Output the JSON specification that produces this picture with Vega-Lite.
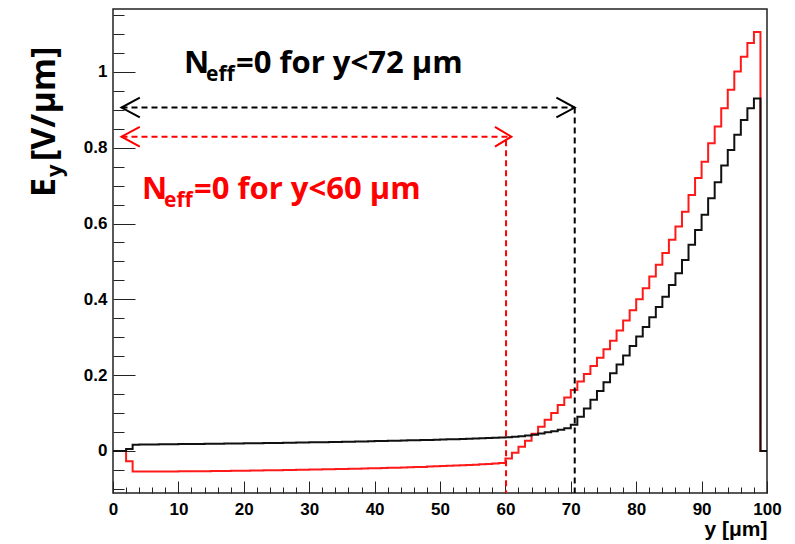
{
 "$schema": "https://vega.github.io/schema/vega-lite/v6.json",
 "width": 654,
 "height": 484,
 "autosize": "none",
 "padding": {"left": 113, "top": 9, "right": 28, "bottom": 51},
 "background": "white",
 "config": {"view": {"stroke": "#222", "strokeWidth": 1.5}, "font": "Liberation Sans"},
 "datasets": {
  "curve": [
   {"s":"black","x":0,"y":0},{"s":"black","x":1,"y":0},{"s":"black","x":2,"y":0.005},{"s":"black","x":3,"y":0.0165},{"s":"black","x":4,"y":0.0168},{"s":"black","x":5,"y":0.017},{"s":"black","x":6,"y":0.0172},{"s":"black","x":7,"y":0.0174},{"s":"black","x":8,"y":0.0176},{"s":"black","x":9,"y":0.0178},
   {"s":"black","x":10,"y":0.018},{"s":"black","x":11,"y":0.0182},{"s":"black","x":12,"y":0.0184},{"s":"black","x":13,"y":0.0186},{"s":"black","x":14,"y":0.0188},{"s":"black","x":15,"y":0.019},{"s":"black","x":16,"y":0.0192},{"s":"black","x":17,"y":0.0194},{"s":"black","x":18,"y":0.0196},{"s":"black","x":19,"y":0.0198},
   {"s":"black","x":20,"y":0.02},{"s":"black","x":21,"y":0.0202},{"s":"black","x":22,"y":0.0205},{"s":"black","x":23,"y":0.0207},{"s":"black","x":24,"y":0.021},{"s":"black","x":25,"y":0.0212},{"s":"black","x":26,"y":0.0215},{"s":"black","x":27,"y":0.0218},{"s":"black","x":28,"y":0.022},{"s":"black","x":29,"y":0.0223},
   {"s":"black","x":30,"y":0.0226},{"s":"black","x":31,"y":0.0229},{"s":"black","x":32,"y":0.0232},{"s":"black","x":33,"y":0.0235},{"s":"black","x":34,"y":0.0238},{"s":"black","x":35,"y":0.0241},{"s":"black","x":36,"y":0.0244},{"s":"black","x":37,"y":0.0247},{"s":"black","x":38,"y":0.0251},{"s":"black","x":39,"y":0.0255},
   {"s":"black","x":40,"y":0.0259},{"s":"black","x":41,"y":0.0263},{"s":"black","x":42,"y":0.0267},{"s":"black","x":43,"y":0.0271},{"s":"black","x":44,"y":0.0275},{"s":"black","x":45,"y":0.0279},{"s":"black","x":46,"y":0.0283},{"s":"black","x":47,"y":0.0287},{"s":"black","x":48,"y":0.0291},{"s":"black","x":49,"y":0.0295},
   {"s":"black","x":50,"y":0.03},{"s":"black","x":51,"y":0.0305},{"s":"black","x":52,"y":0.031},{"s":"black","x":53,"y":0.0315},{"s":"black","x":54,"y":0.032},{"s":"black","x":55,"y":0.0326},{"s":"black","x":56,"y":0.0332},{"s":"black","x":57,"y":0.0338},{"s":"black","x":58,"y":0.0345},{"s":"black","x":59,"y":0.0352},
   {"s":"black","x":60,"y":0.036},{"s":"black","x":61,"y":0.0375},{"s":"black","x":62,"y":0.039},{"s":"black","x":63,"y":0.041},{"s":"black","x":64,"y":0.043},{"s":"black","x":65,"y":0.046},{"s":"black","x":66,"y":0.049},{"s":"black","x":67,"y":0.052},{"s":"black","x":68,"y":0.056},{"s":"black","x":69,"y":0.06},
   {"s":"black","x":70,"y":0.069},{"s":"black","x":71,"y":0.09},{"s":"black","x":72,"y":0.112},{"s":"black","x":73,"y":0.135},{"s":"black","x":74,"y":0.158},{"s":"black","x":75,"y":0.181},{"s":"black","x":76,"y":0.205},{"s":"black","x":77,"y":0.228},{"s":"black","x":78,"y":0.252},{"s":"black","x":79,"y":0.277},
   {"s":"black","x":80,"y":0.302},{"s":"black","x":81,"y":0.327},{"s":"black","x":82,"y":0.353},{"s":"black","x":83,"y":0.38},{"s":"black","x":84,"y":0.407},{"s":"black","x":85,"y":0.438},{"s":"black","x":86,"y":0.469},{"s":"black","x":87,"y":0.504},{"s":"black","x":88,"y":0.544},{"s":"black","x":89,"y":0.583},
   {"s":"black","x":90,"y":0.623},{"s":"black","x":91,"y":0.667},{"s":"black","x":92,"y":0.709},{"s":"black","x":93,"y":0.753},{"s":"black","x":94,"y":0.794},{"s":"black","x":95,"y":0.834},{"s":"black","x":96,"y":0.873},{"s":"black","x":97,"y":0.904},{"s":"black","x":98,"y":0.93},{"s":"black","x":99,"y":0},{"s":"black","x":100,"y":0},
   {"s":"red","x":0,"y":0},{"s":"red","x":1,"y":0},{"s":"red","x":2,"y":-0.027},{"s":"red","x":3,"y":-0.0545},{"s":"red","x":4,"y":-0.0545},{"s":"red","x":5,"y":-0.0544},{"s":"red","x":6,"y":-0.0543},{"s":"red","x":7,"y":-0.0542},{"s":"red","x":8,"y":-0.0541},{"s":"red","x":9,"y":-0.054},
   {"s":"red","x":10,"y":-0.0539},{"s":"red","x":11,"y":-0.0537},{"s":"red","x":12,"y":-0.0536},{"s":"red","x":13,"y":-0.0534},{"s":"red","x":14,"y":-0.0533},{"s":"red","x":15,"y":-0.0531},{"s":"red","x":16,"y":-0.0529},{"s":"red","x":17,"y":-0.0527},{"s":"red","x":18,"y":-0.0525},{"s":"red","x":19,"y":-0.0523},
   {"s":"red","x":20,"y":-0.052},{"s":"red","x":21,"y":-0.0518},{"s":"red","x":22,"y":-0.0515},{"s":"red","x":23,"y":-0.0512},{"s":"red","x":24,"y":-0.051},{"s":"red","x":25,"y":-0.0507},{"s":"red","x":26,"y":-0.0504},{"s":"red","x":27,"y":-0.0501},{"s":"red","x":28,"y":-0.0498},{"s":"red","x":29,"y":-0.0495},
   {"s":"red","x":30,"y":-0.0492},{"s":"red","x":31,"y":-0.0489},{"s":"red","x":32,"y":-0.0486},{"s":"red","x":33,"y":-0.0482},{"s":"red","x":34,"y":-0.0479},{"s":"red","x":35,"y":-0.0475},{"s":"red","x":36,"y":-0.0471},{"s":"red","x":37,"y":-0.0467},{"s":"red","x":38,"y":-0.0463},{"s":"red","x":39,"y":-0.0459},
   {"s":"red","x":40,"y":-0.0455},{"s":"red","x":41,"y":-0.0451},{"s":"red","x":42,"y":-0.0447},{"s":"red","x":43,"y":-0.0442},{"s":"red","x":44,"y":-0.0438},{"s":"red","x":45,"y":-0.0433},{"s":"red","x":46,"y":-0.0427},{"s":"red","x":47,"y":-0.0421},{"s":"red","x":48,"y":-0.0414},{"s":"red","x":49,"y":-0.0407},
   {"s":"red","x":50,"y":-0.04},{"s":"red","x":51,"y":-0.0393},{"s":"red","x":52,"y":-0.0386},{"s":"red","x":53,"y":-0.0378},{"s":"red","x":54,"y":-0.037},{"s":"red","x":55,"y":-0.0362},{"s":"red","x":56,"y":-0.0353},{"s":"red","x":57,"y":-0.0343},{"s":"red","x":58,"y":-0.0332},{"s":"red","x":59,"y":-0.032},
   {"s":"red","x":60,"y":-0.02},{"s":"red","x":61,"y":-0.005},{"s":"red","x":62,"y":0.011},{"s":"red","x":63,"y":0.027},{"s":"red","x":64,"y":0.045},{"s":"red","x":65,"y":0.064},{"s":"red","x":66,"y":0.082},{"s":"red","x":67,"y":0.1},{"s":"red","x":68,"y":0.121},{"s":"red","x":69,"y":0.141},
   {"s":"red","x":70,"y":0.161},{"s":"red","x":71,"y":0.183},{"s":"red","x":72,"y":0.203},{"s":"red","x":73,"y":0.224},{"s":"red","x":74,"y":0.246},{"s":"red","x":75,"y":0.268},{"s":"red","x":76,"y":0.291},{"s":"red","x":77,"y":0.318},{"s":"red","x":78,"y":0.344},{"s":"red","x":79,"y":0.371},
   {"s":"red","x":80,"y":0.4},{"s":"red","x":81,"y":0.429},{"s":"red","x":82,"y":0.46},{"s":"red","x":83,"y":0.491},{"s":"red","x":84,"y":0.522},{"s":"red","x":85,"y":0.557},{"s":"red","x":86,"y":0.592},{"s":"red","x":87,"y":0.631},{"s":"red","x":88,"y":0.675},{"s":"red","x":89,"y":0.72},
   {"s":"red","x":90,"y":0.763},{"s":"red","x":91,"y":0.812},{"s":"red","x":92,"y":0.856},{"s":"red","x":93,"y":0.904},{"s":"red","x":94,"y":0.953},{"s":"red","x":95,"y":1.001},{"s":"red","x":96,"y":1.04},{"s":"red","x":97,"y":1.076},{"s":"red","x":98,"y":1.105},{"s":"red","x":99,"y":0},{"s":"red","x":100,"y":0}
  ],
  "dashes": [
   {"c":"black","x":1.3,"x2":70.6,"y":0.906,"y2":0.906},
   {"c":"black","x":70.6,"x2":70.6,"y":0.906,"y2":-0.111},
   {"c":"red","x":1.3,"x2":60.9,"y":0.829,"y2":0.829},
   {"c":"red","x":60.1,"x2":60.1,"y":0.82,"y2":-0.111}
  ],
  "heads": [
   {"c":"black","g":"bl","o":1,"x":4.1,"y":0.932},{"c":"black","g":"bl","o":2,"x":1.3,"y":0.906},{"c":"black","g":"bl","o":3,"x":4.1,"y":0.88},
   {"c":"black","g":"br","o":1,"x":67.8,"y":0.932},{"c":"black","g":"br","o":2,"x":70.6,"y":0.906},{"c":"black","g":"br","o":3,"x":67.8,"y":0.88},
   {"c":"red","g":"rl","o":1,"x":4.1,"y":0.855},{"c":"red","g":"rl","o":2,"x":1.3,"y":0.829},{"c":"red","g":"rl","o":3,"x":4.1,"y":0.803},
   {"c":"red","g":"rr","o":1,"x":58.4,"y":0.855},{"c":"red","g":"rr","o":2,"x":60.9,"y":0.829},{"c":"red","g":"rr","o":3,"x":58.4,"y":0.803}
  ],
  "notes": [
   {"c":"black","x":10.86,"y":0.997,"main":"N","sub":"eff","rest":"=0 for y<72 μm"},
   {"c":"red","x":4.43,"y":0.664,"main":"N","sub":"eff","rest":"=0 for y<60 μm"}
  ],
  "ytitle": [
   {"x":-8.87,"y":0.67,"a":"E","b":"y","t":"[V/μm]"}
  ]
 },
 "encoding": {
  "x": {"field": "x", "type": "quantitative",
   "scale": {"domain": [0, 100], "nice": false, "zero": false},
   "axis": {
    "values": [0,2,4,6,8,10,12,14,16,18,20,22,24,26,28,30,32,34,36,38,40,42,44,46,48,50,52,54,56,58,60,62,64,66,68,70,72,74,76,78,80,82,84,86,88,90,92,94,96,98,100],
    "labelExpr": "datum.value % 10 === 0 ? datum.label : ''",
    "tickSize": {"condition": {"test": "datum.value % 10 === 0", "value": -12}, "value": -6},
    "tickColor": "#222", "tickWidth": 1,
    "domain": false, "grid": false,
    "labelOverlap": false, "labelFlush": false,
    "labelFont": "Liberation Sans", "labelFontWeight": "bold", "labelFontSize": 17, "labelColor": "#000", "labelPadding": 20,
    "title": "y [μm]", "titleFont": "Liberation Sans", "titleFontWeight": "bold", "titleFontSize": 21,
    "titleAnchor": "end", "titlePadding": -5, "titleColor": "#000"
   }
  },
  "y": {"field": "y", "type": "quantitative",
   "scale": {"domain": [-0.111, 1.166], "nice": false, "zero": false},
   "axis": {
    "values": [-0.1,-0.05,0,0.05,0.1,0.15,0.2,0.25,0.3,0.35,0.4,0.45,0.5,0.55,0.6,0.65,0.7,0.75,0.8,0.85,0.9,0.95,1,1.05,1.1,1.15],
    "labelExpr": "abs(round(datum.value*100)) % 20 === 0 ? format(datum.value, '') : ''",
    "tickSize": {"condition": {"test": "abs(round(datum.value*100)) % 20 === 0", "value": -22}, "value": -11},
    "tickColor": "#222", "tickWidth": 1,
    "domain": false, "grid": false,
    "labelOverlap": false, "labelFlush": false,
    "labelFont": "Liberation Sans", "labelFontWeight": "bold", "labelFontSize": 17, "labelColor": "#000", "labelPadding": 28,
    "title": null
   }
  }
 },
 "layer": [
  {"data": {"name": "curve"}, "transform": [{"filter": "datum.s === 'red'"}],
   "mark": {"type": "line", "interpolate": "step-after", "color": "#ff1a1a", "strokeWidth": 2}},
  {"data": {"name": "curve"}, "transform": [{"filter": "datum.s === 'black'"}],
   "mark": {"type": "line", "interpolate": "step-after", "color": "#111111", "strokeWidth": 2}},
  {"data": {"name": "dashes"},
   "mark": {"type": "rule", "strokeDash": [6, 4], "strokeWidth": 2},
   "encoding": {
    "x2": {"field": "x2"}, "y2": {"field": "y2"},
    "color": {"field": "c", "type": "nominal", "scale": {"domain": ["black", "red"], "range": ["#000000", "#ff0000"]}, "legend": null}
   }},
  {"data": {"name": "heads"},
   "mark": {"type": "line", "strokeWidth": 2},
   "encoding": {
    "detail": {"field": "g"},
    "order": {"field": "o", "type": "quantitative"},
    "color": {"field": "c", "type": "nominal", "scale": {"domain": ["black", "red"], "range": ["#000000", "#ff0000"]}, "legend": null}
   }},
  {"data": {"name": "notes"},
   "mark": {"type": "text", "font": "Open Sans", "fontWeight": "bold", "fontSize": 31, "align": "left", "baseline": "alphabetic"},
   "encoding": {"text": {"field": "main"},
    "color": {"field": "c", "type": "nominal", "scale": {"domain": ["black", "red"], "range": ["#000000", "#ff0000"]}, "legend": null}}},
  {"data": {"name": "notes"},
   "mark": {"type": "text", "font": "Open Sans", "fontWeight": "bold", "fontSize": 21, "align": "left", "baseline": "alphabetic", "dx": 22, "dy": 8},
   "encoding": {"text": {"field": "sub"},
    "color": {"field": "c", "type": "nominal", "scale": {"domain": ["black", "red"], "range": ["#000000", "#ff0000"]}, "legend": null}}},
  {"data": {"name": "notes"},
   "mark": {"type": "text", "font": "Open Sans", "fontWeight": "bold", "fontSize": 31, "align": "left", "baseline": "alphabetic", "dx": 52},
   "encoding": {"text": {"field": "rest"},
    "color": {"field": "c", "type": "nominal", "scale": {"domain": ["black", "red"], "range": ["#000000", "#ff0000"]}, "legend": null}}},
  {"data": {"name": "ytitle"},
   "mark": {"type": "text", "font": "Open Sans", "fontWeight": "bold", "fontSize": 34, "align": "left", "baseline": "alphabetic", "angle": 270, "color": "#000"},
   "encoding": {"text": {"field": "a"}}},
  {"data": {"name": "ytitle"},
   "mark": {"type": "text", "font": "Open Sans", "fontWeight": "bold", "fontSize": 22, "align": "left", "baseline": "alphabetic", "angle": 270, "dx": 20, "dy": 7, "color": "#000"},
   "encoding": {"text": {"field": "b"}}},
  {"data": {"name": "ytitle"},
   "mark": {"type": "text", "font": "Open Sans", "fontWeight": "bold", "fontSize": 34, "align": "left", "baseline": "alphabetic", "angle": 270, "dx": 36, "color": "#000"},
   "encoding": {"text": {"field": "t"}}}
 ]
}
